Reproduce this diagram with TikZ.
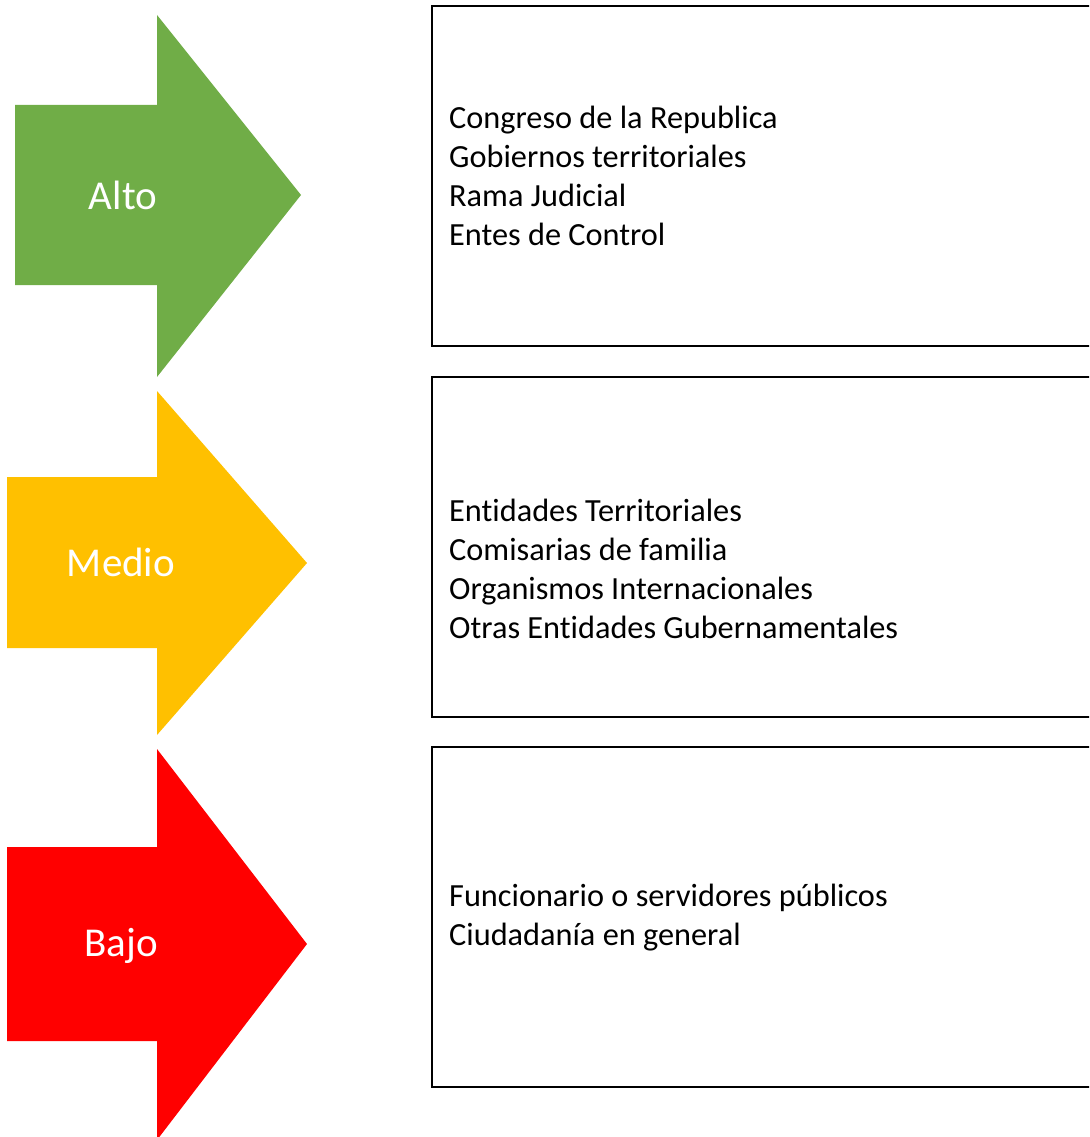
\documentclass[tikz,border=0pt]{standalone}
\usepackage{fontspec}
\setmainfont{Carlito}[Ligatures={NoCommon}]
\usepackage{xcolor}
\definecolor{alto}{HTML}{70AD47}
\definecolor{medio}{HTML}{FFC000}
\definecolor{bajo}{HTML}{FF0000}
\tikzset{
	nivel/.style={text=white,font=\fontsize{41}{49}\selectfont},
	lista/.style={anchor=west,align=left,inner sep=0pt,font=\fontsize{32.3}{39}\selectfont},
	caja/.style={line width=2.3pt}
}

\begin{document}
\begin{tikzpicture}[x=1pt,y=-1pt]
		\useasboundingbox (0,0) rectangle (1089,1137);
		\clip (0,0) rectangle (1089,1137);
		
		\fill[alto] (15,105) -- (157,105) -- (157,15) -- (301,195) -- (157,377) -- (157,285) -- (15,285) -- cycle;
		\fill[medio] (7,477) -- (157,477) -- (157,391) -- (307,563) -- (157,735) -- (157,648) -- (7,648) -- cycle;
		\fill[bajo] (7,847) -- (157,847) -- (157,749) -- (307,944) -- (157,1140) -- (157,1041) -- (7,1041) -- cycle;
		
		\node[nivel] (alto) at (123,195) {Alto};
		\node[nivel] (medio) at (121,562) {Medio};
		\node[nivel] (bajo) at (121,946) {Bajo};
		
		\draw[caja] (432,6) rectangle (1100,346);
		\draw[caja] (432,377) rectangle (1100,717);
		\draw[caja] (432,747) rectangle (1100,1087);
		
		\node[lista] (lalto) at (449,176) {Congreso de la Republica\\Gobiernos territoriales\\Rama Judicial\\Entes de Control};
		\node[lista] (lmedio) at (449,569) {Entidades Territoriales\\Comisarias de familia\\Organismos Internacionales\\Otras Entidades Gubernamentales};
		\node[lista] (lbajo) at (449,918) {Funcionario o servidores públicos\\Ciudadanía en general};
	\end{tikzpicture}
\end{document}
